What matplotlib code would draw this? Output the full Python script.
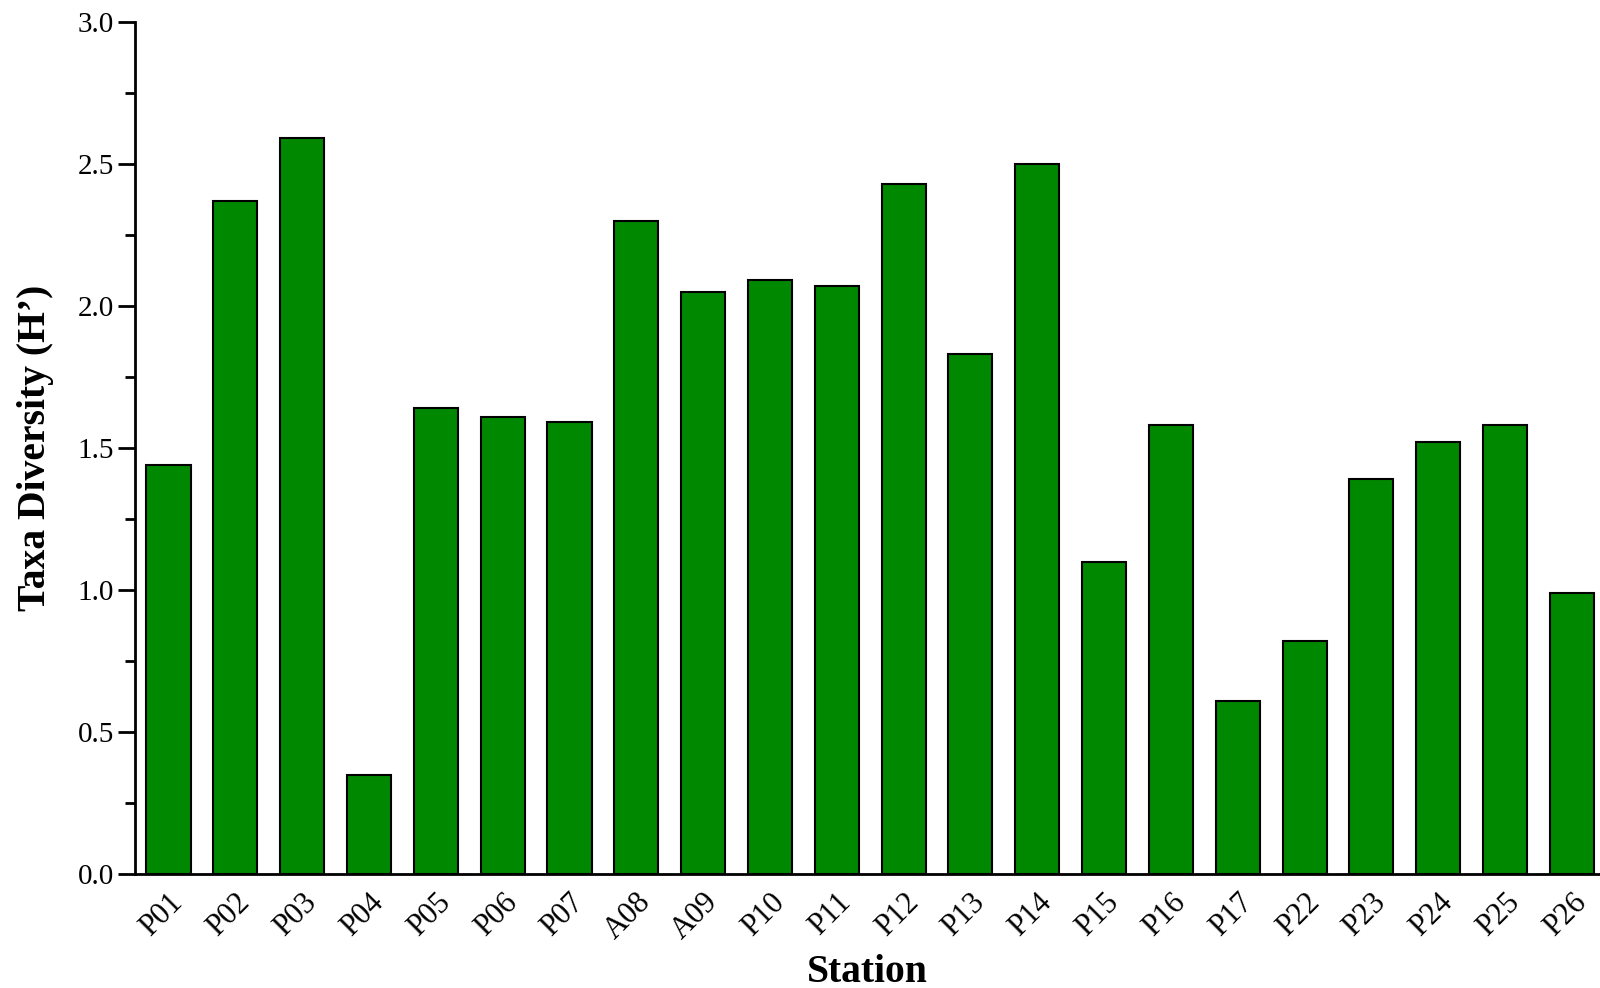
import numpy as np
import matplotlib
matplotlib.use("Agg")
import matplotlib.pyplot as plt
from matplotlib.ticker import MultipleLocator

stations = ["P01", "P02", "P03", "P04", "P05", "P06", "P07", "A08", "A09", "P10", "P11",
            "P12", "P13", "P14", "P15", "P16", "P17", "P22", "P23", "P24", "P25", "P26"]
diversity = [1.44, 2.37, 2.59, 0.35, 1.64, 1.61, 1.59, 2.30, 2.05, 2.09, 2.07,
             2.43, 1.83, 2.50, 1.10, 1.58, 0.61, 0.82, 1.39, 1.52, 1.58, 0.99]

plt.rcParams['font.family'] = ['Liberation Serif', 'DejaVu Serif']

fig = plt.figure(figsize=(16, 9.88), dpi=100)
ax = fig.add_axes([0.0844, 0.1154, 0.9156, 0.8623])

x = np.arange(len(stations))
ax.bar(x, diversity, width=0.66, color='#008800', edgecolor='black', linewidth=1.5)

ax.set_xlim(-0.5, 21.42)
ax.set_ylim(0, 3.0)
ax.yaxis.set_major_locator(MultipleLocator(0.5))
ax.yaxis.set_minor_locator(MultipleLocator(0.25))
ax.set_xticks(x)
ax.set_xticklabels(stations, rotation=45, ha='right', rotation_mode='anchor')

for s in ['top', 'right']:
    ax.spines[s].set_visible(False)
for s in ['left', 'bottom']:
    ax.spines[s].set_linewidth(2)

ax.tick_params(axis='y', which='major', direction='out', length=12, width=2, labelsize=21, pad=3)
ax.tick_params(axis='y', which='minor', direction='out', length=7, width=2)
ax.tick_params(axis='x', length=0, labelsize=22, pad=10)

ax.set_ylabel("Taxa Diversity (H\u2019)", fontsize=28.5, fontweight='bold', labelpad=17)
ax.set_xlabel("Station", fontsize=28.5, fontweight='bold', labelpad=6)

fig.savefig("out.png", dpi=100)
